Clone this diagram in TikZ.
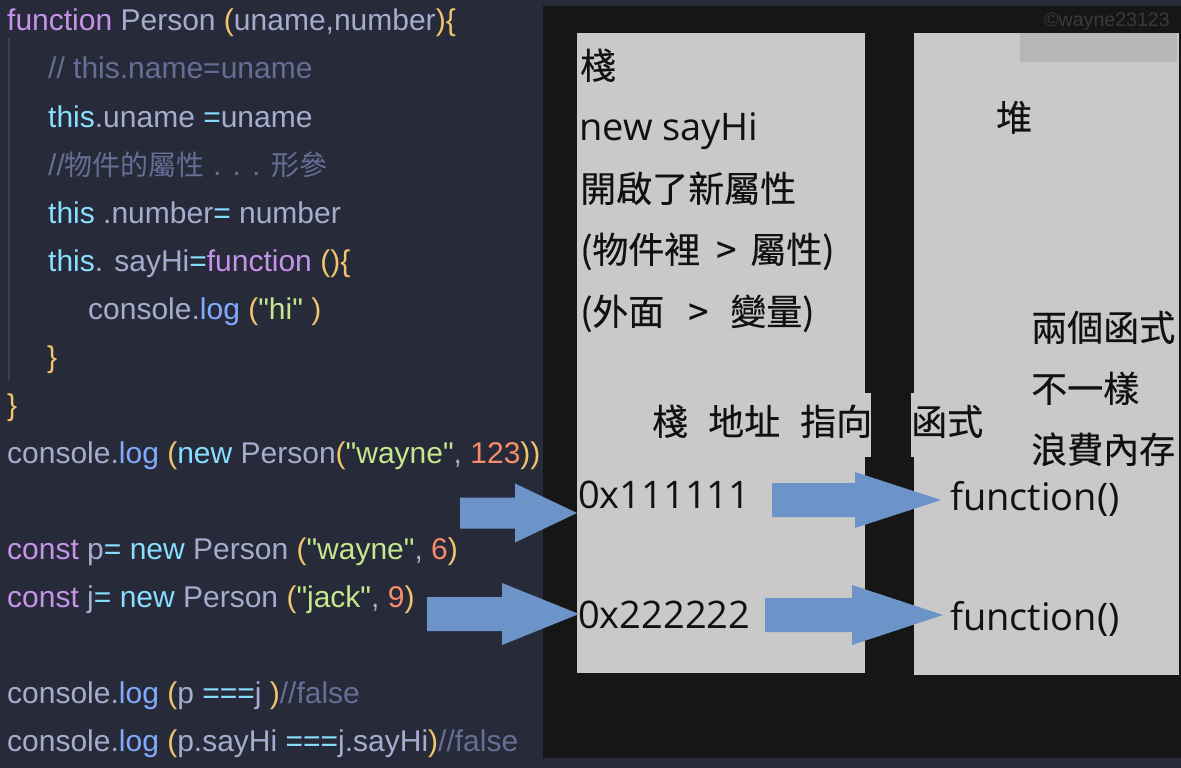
\documentclass[tikz,border=0pt]{standalone}
\usepackage{fontspec}
\setmainfont{Liberation Sans}
\newfontfamily\cjkf{Noto Sans CJK TC}
\newfontfamily\cjkb[FakeBold=0.35]{Noto Sans CJK TC}
\newfontfamily\latf{Open Sans}
\usetikzlibrary{calc}
\definecolor{bgnavy}{HTML}{272A38}
\definecolor{panelblack}{HTML}{161616}
\definecolor{panelgrey}{HTML}{C9C9C9}
\definecolor{patchgrey}{HTML}{B6B6B6}
\definecolor{cdefault}{HTML}{A6ACCD}
\definecolor{ckw}{HTML}{C792EA}
\definecolor{ccyan}{HTML}{89DDFF}
\definecolor{cfunc}{HTML}{82AAFF}
\definecolor{cstr}{HTML}{C3E88D}
\definecolor{cnum}{HTML}{F78C6C}
\definecolor{ccom}{HTML}{676E95}
\definecolor{cbr}{HTML}{F0C56C}
\definecolor{arrowblue}{HTML}{6C94C8}
\definecolor{guide}{HTML}{3E4255}
\definecolor{wmark}{HTML}{3A3A3A}
\definecolor{inktext}{HTML}{111111}
\newcommand\kwd[1]{\textcolor{ckw}{#1}}
\newcommand\cyn[1]{\textcolor{ccyan}{#1}}
\newcommand\fnc[1]{\textcolor{cfunc}{#1}}
\newcommand\strg[1]{\textcolor{cstr}{#1}}
\newcommand\numb[1]{\textcolor{cnum}{#1}}
\newcommand\cmt[1]{\textcolor{ccom}{#1}}
\newcommand\brk[1]{\textcolor{cbr}{#1}}
\newcommand\dq{\textquotedbl}
\newcommand\cjkc[1]{{\cjkf\fontsize{28}{30}\selectfont #1}}
\newcommand\blockarrow[5]{%
  \fill[arrowblue] ($(#1)+(0,-#4)$) -- ($(#2)+(-#3,-#4)$) -- ($(#2)+(-#3,-#5)$)
    -- (#2) -- ($(#2)+(-#3,#5)$) -- ($(#2)+(-#3,#4)$) -- ($(#1)+(0,#4)$) -- cycle;}
\begin{document}
\begin{tikzpicture}[x=1pt,y=-1pt,
  code/.style={anchor=base west, inner sep=0pt, font=\fontsize{30}{36}\selectfont, text=cdefault},
  rp/.style={anchor=base west, inner sep=0pt, text=inktext},
  cj/.style={rp, font=\cjkb\fontsize{36}{40}\selectfont},
  lt/.style={rp, font=\latf\fontsize{38}{44}\selectfont}]
\useasboundingbox (0,0) rectangle (1181,768);
% backgrounds
\fill[bgnavy] (0,0) rectangle (1181,768);
\fill[panelblack] (543,6) rectangle (1181,758);
\fill[panelgrey] (577,33) rectangle (865,673);
\fill[panelgrey] (914,33) rectangle (1179,675);
\fill[panelgrey] (865,393) rectangle (871,457);
\fill[panelgrey] (911,393) rectangle (914,457);
\fill[patchgrey] (1020,33) rectangle (1177,62);
\draw[guide, line width=1.2pt] (9,38) -- (9,380);
% code
\node[code] (c1) at (7,31) {\kwd{function} Person \brk{(}uname,number\brk{)\{}};
\node[code] (c2) at (48,79) {\cmt{// this.name=uname}};
\node[code] (c3) at (48,127) {\cyn{this}.uname \cyn{=}uname};
\node[code] (c4) at (48,175) {\cmt{//\cjkc{物件的屬性} . . . \cjkc{形參}}};
\node[code] (c5) at (48,223) {\cyn{this} .number\cyn{=} number};
\node[code] (c6) at (48,271) {\cyn{this}. sayHi\cyn{=}\kwd{function} \brk{()\{}};
\node[code] (c7) at (88,319) {console.\fnc{log} \brk{(}\strg{\dq hi\dq} \brk{)}};
\node[code] (c8) at (47,367) {\brk{\}}};
\node[code] (c9) at (7,415) {\brk{\}}};
\node[code] (c10) at (7,463) {console.\fnc{log} \brk{(}\cyn{new} Person\brk{(}\strg{\dq wayne\dq}, \numb{123}\brk{))}};
\node[code] (c11) at (7,559) {\kwd{const} p\cyn{=} \cyn{new} Person \brk{(}\strg{\dq wayne\dq}, \numb{6}\brk{)}};
\node[code] (c12) at (7,607) {\kwd{const} j\cyn{=} \cyn{new} Person \brk{(}\strg{\dq jack\dq}, \numb{9}\brk{)}};
\node[code] (c13) at (7,703) {console.\fnc{log} \brk{(}p \cyn{===}j \brk{)}\cmt{//false}};
\node[code] (c14) at (7,751) {console.\fnc{log} \brk{(}p.sayHi \cyn{===}j.sayHi\brk{)}\cmt{//false}};
% watermark
\node[anchor=base west, inner sep=0pt, text=wmark, font=\fontsize{19.6}{22}\selectfont] (wm) at (1044,27) {©wayne23123};
% stack panel
\node[cj] (s1) at (580,79) {棧};
\node[lt] (s2) at (579,140) {new sayHi};
\node[cj] (s3) at (580,202) {開啟了新屬性};
\node[cj] (s4) at (580,263) {(物件裡\hspace{16pt}>\hspace{14pt}屬性)};
\node[cj] (s5) at (580,325) {(外面\hspace{24pt}>\hspace{22pt}變量)};
\node[cj] (s6) at (652,435) {棧\hspace{20pt}地址\hspace{20pt}指向};
\node[cj] (s7) at (911,435) {函式};
\node[lt] (a1) at (578,508) {0x111111};
\node[lt] (a2) at (578,628) {0x222222};
% heap panel
\node[cj] (h1) at (996,131) {堆};
\node[cj] (h2) at (1031,341) {兩個函式};
\node[cj] (h3) at (1031,402) {不一樣};
\node[cj] (h4) at (1031,463) {浪費內存};
\node[lt] (f1) at (950,510) {function()};
\node[lt] (f2) at (950,630) {function()};
% arrows
\coordinate (t1) at (460,513); \coordinate (p1) at (577,513);
\coordinate (t2) at (427,614); \coordinate (p2) at (579,614);
\coordinate (t3) at (772,500); \coordinate (p3) at (941,500);
\coordinate (t4) at (765,615); \coordinate (p4) at (943,615);
\blockarrow{t1}{p1}{62}{15.5}{29.5}
\blockarrow{t2}{p2}{77}{17}{31}
\blockarrow{t3}{p3}{86}{17}{28}
\blockarrow{t4}{p4}{91}{17}{30}
\end{tikzpicture}
\end{document}
